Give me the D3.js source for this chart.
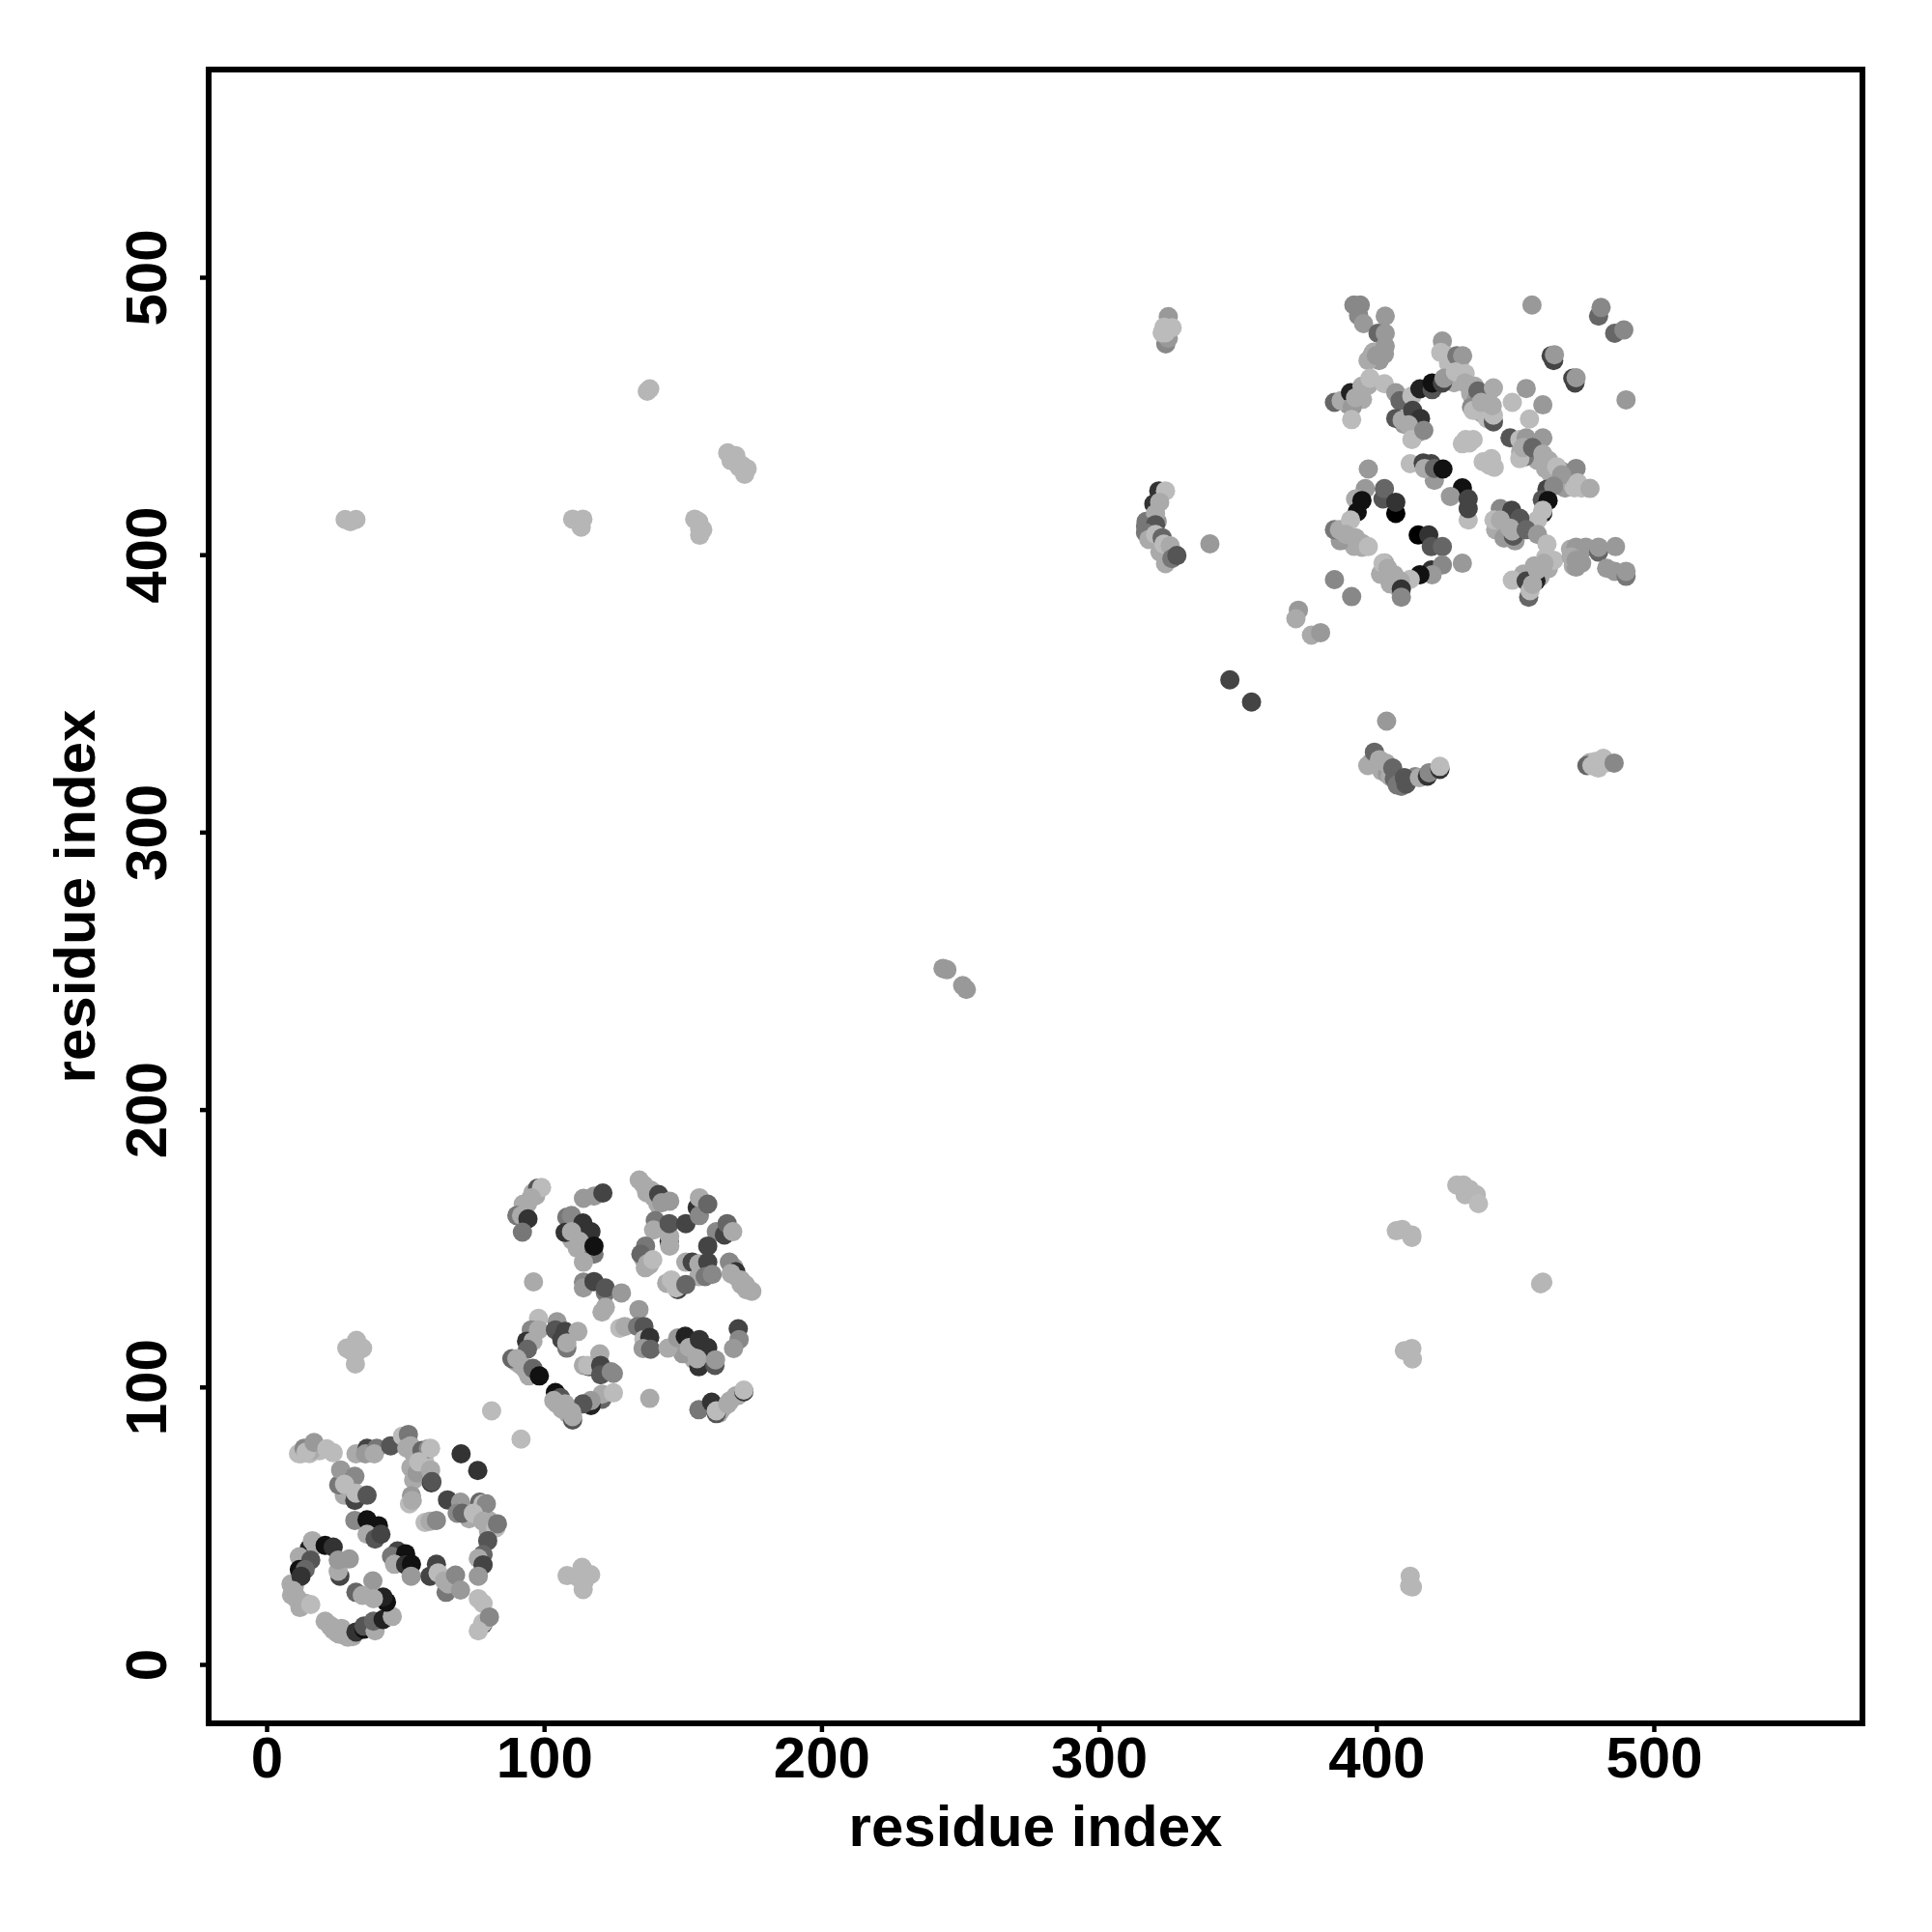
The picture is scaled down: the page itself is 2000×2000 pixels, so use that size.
<!DOCTYPE html>
<html><head><meta charset="utf-8">
<script src="https://cdn.jsdelivr.net/npm/d3@7/dist/d3.min.js"></script>
<style>html,body{margin:0;background:#fff}svg{display:block}</style></head>
<body><svg id="c" width="2000" height="2000"></svg>
<script>
// each contact: [residue x, residue y, grey level 0-15]
const clusterFill = [
[8.8,29,10],[9,25,10],[11,24,10],[12,20.5,10],[14,22,10],[10,28,10],[23,14,10],[24,12.5,10],[26,11,10],[28,10.5,10],[31,10,10],[27,13,10],
[11.5,76,11],[15.5,76,11],[19,77,11],[16,77,10],[28,68,10],[29,63,10],[30,65,11],[28,61,10],[53,76,10],[55,74,10],[52,71,10],[57,73,11],[56,68,10],[53,66.5,10],
[71,56,10],[73,52.5,10],[76,55,10],[80,52,10],[80,48,10],[66,31,10],[67,28,10],
[91.5,108,10],[93.5,106,10],[94.5,104,10],[90,109,10],[104.5,94,10],[106.5,92,10],[108.5,90.5,10],[105,96,10],[137,170,10],[139.5,168.5,10],[141,166,10],[96,170,10],[94,166,10],[93,163,10],[97,169,10],
[169,140,10],[171,137,10],[173,135,10],[168.5,143,9],[164,92,10],[167,95,10],[170,97,10],[163,90.5,10],[110,153,10],[112,150,10],[113,155,10],[111,158,10],[136,146,10],[138,144,10],[136.5,143,10],[152,112,10],[154,110,10],[150,112,9],
[393,458,10],[395,456,10],[390,454,9],[397,461,10],[391,456,10],[399,473,10],[401,470,9],[397,470,10],[426,469,11],[428,462,10],[434,458,10],[438,451,10],[440,456,10],[430,468,11],[436,456,9],[440,449,11],
[411,449,10],[413,446,10],[415,444,10],[410,447,9],[438.5,433.5,11],[442.5,431.5,11],[431,440,11],
[455,436,10],[458,434,10],[461,431,10],[463,429,10],[465,428,10],[452,437,10],[468,424,9],[470,426,10],[474,424,11],[467,430,9],
[388,408,10],[390,405,10],[392,403,10],[395,404,10],[387,405,9],[393,404.5,10],[401.5,393,10],[404,392,10],[406,390,10],[403,397,10],[405,389.5,10],[408,388,10],
[446,411,10],[447,408,10],[443,409,10],[446,406,9],[450,405,9],[453,393,10],[456,392,10],[459,392,10],[457,396,10],[461,399,11],[462,395,10],[455,393,10],
[471,396,10],[473,400,10],[470,402,10],[474,397,9],[472,395.5,9],
[317,412,7],[319,411,6],[319,408,10],[322,405,10],[324,401,10],[325,398,10],[322,401,10],[321,412,9],
[398,325,10],[400,327,9],[402,322,10],[404,321,9],[408,318,6],[412,319,10],[414,320,8],[409,316.5,7],[405,320,10],[477,325,10],[479,325.5,11],[483,325,11]
];
const clusterA = [
[12.4,75.9,11],[13.5,77.9,8],[14.2,76.5,11],[17.1,80,9],[21.7,77.7,11],[24,76.3,11],
[26,64.7,7],[26.7,70.1,9],[31.8,67.8,8],[28.1,64.9,11],[31.8,59.1,4],[32.2,61.7,11],[36.2,61,5],
[32.2,75.9,10],[36.2,77.9,4],[35.6,75.9,9],[39.7,77.9,7],[38.8,75.9,10],[44.7,78.8,5],[49,82.3,11],[51.1,82.9,7],[50.5,78,10],[51.9,78.8,10],[56,77.1,6],[58.3,77.7,8],[59.1,77.9,11],
[54.2,69,9],[54.8,73,11],[59.1,70.1,10],[59.4,65.5,3],[59.6,65.9,5],[70.1,75.9,3],[76.1,69.9,3],
[52.2,60.8,9],[51.5,57.9,11],[52.5,59.1,10],[57.1,51.2,11],[58.9,51.6,10],[61.2,51.9,8],
[65.2,59.3,4],[69.9,58.5,9],[68.7,54.5,8],[70.5,54.5,6],[76.8,58.5,6],[78,57.9,11],[79.2,57.9,8],[74.5,54.5,11],[78,51.6,10],[82.6,49.2,11],[83.2,50.7,7],
[79.7,44.6,5],[78,39.6,6],[76.3,38.2,10],[78,35.9,4],[76.3,31.8,9],[76.3,23.7,11],[78,22,11],[78,14.5,5],[78,15,11],[80.3,17.1,8],[76.3,12.1,11],
[31.8,51.9,8],[36.2,52.1,1],[40.3,50,1],[36.2,46.9,10],[39.1,45.2,5],[41.2,46.9,4],
[47.2,40.9,4],[45,39,7],[50.1,39.9,1],[46.1,36.1,10],[50.1,35.9,3],[52.2,36.1,1],[52.1,31.8,9],
[61.2,36.1,4],[58.9,31.8,4],[61.8,33,11],[64.7,26,7],[64.1,30.1,10],[65.5,29,10],[68.1,32.2,8],[69.9,26.8,9],
[15.3,41.7,2],[16.5,44.6,10],[17.6,42.9,10],[21.1,42.9,1],[24,42.3,3],[26.4,31.8,4],[25.8,33.6,10],[25.8,37.6,9],[29.8,38,9],
[11.8,38.8,10],[15.9,37.6,5],[11.8,34.2,1],[13.9,34.2,6],[12.4,31.8,3],[9.5,26.6,10],[10.7,23.7,10],[13,22,10],[15.9,21.6,11],
[21.1,15.6,10],[22.9,13.8,10],[25.2,11.5,10],[29.3,9.8,10],[32.2,11.7,3],[35.1,12.7,1],[35.1,13.8,5],[39.1,12.1,10],[38.5,15.6,6],[42,16.2,2],[45.3,17.3,10],
[43.2,22.5,1],[42,24.3,2],[38.3,30.1,9],[32.2,26,6],[34.5,24.9,10],[38.5,23.7,10]
];
const clusterB = [
[97.7,171.7,5],[99.1,171.9,11],[95.4,168.2,10],[92.5,165.9,10],[90.2,161.8,7],[91.9,161.8,10],[94.2,160.6,3],[92.2,155.8,7],[96.2,137.9,10],
[114.2,168,9],[118,168.8,9],[121.2,169.9,4],[108.2,161.2,7],[109.9,161.8,8],[114,159.1,3],[107.6,155.7,3],[109.9,156,10],[116.9,156,3],[112.8,152.5,10],[118,147.9,7],[118,150.8,1],[114.2,145,10],
[134.3,174.6,10],[136,172.8,10],[138.4,171,10],[141.3,169.4,4],[142.4,166.4,9],[145.3,167,9],[140.1,160,7],[139.5,156.6,10],[145.1,152.5,3],[145.3,154.3,10],[145.3,150.8,10],[145.1,158.9,5],[151.1,158.9,4],
[155.2,164.7,3],[156,168.2,10],[156,161.8,8],[159,165.9,6],[162.1,156,8],[165,154.8,4],[166,158.9,6],[168,156,10],[159,150.8,4],
[136.6,150.8,7],[134.9,147.9,6],[137.2,144.4,10],[139.2,145.9,11],[151.1,145,10],[153.4,145,4],[155.8,144.4,10],[155.8,139.8,10],[159,145,4],[158.1,139.8,7],[160.6,140.6,8],
[144.2,137.4,10],[145.9,138.6,11],[148.2,135.1,4],[147.6,135.7,11],[151.1,136.9,6],
[166.8,145,8],[169.1,141.5,3],[167.4,140.9,10],[170.9,138.6,10],[172.6,136.9,10],[174.9,134.5,10],
[114.2,137.8,8],[114.2,135.7,9],[118,138,4],[122.1,134,7],[122.1,135.7,5],[127.9,133.9,9],[122.1,128.7,10],[120.9,127,10],
[134.2,127.9,9],[127.3,121.2,11],[129.1,121.8,10],[133.7,121.8,7],[136,121.8,5],[136,117.1,11],[138.1,117.9,3],[135.7,113.9,9],[138.4,113.6,6],
[144.7,114,10],[148.2,117.7,9],[150.9,118.3,2],[152.3,114.2,10],[156,117.1,3],[159,114.2,3],[155.8,107.3,3],[155.2,110.2,10],[161.6,107.8,5],[161.8,109.8,9],
[170,121,4],[170.3,117.1,8],[168.3,113.9,9],
[98,124.7,11],[95.4,120.6,8],[98,120.6,10],[93.7,116.5,3],[96,116.5,10],[94,113.6,6],
[104.7,123.5,9],[104.1,120.6,5],[107.6,120,4],[112.2,120,10],[106.4,117.1,4],[108.2,114,7],[108.2,115.9,10],
[88.4,110.2,6],[90.2,110.2,10],[92.5,107.3,10],[95.4,104.4,10],[96,106.7,6],[98.3,104,1],
[114.2,107.8,10],[116.3,107.3,5],[115.7,107.8,11],[120.1,111.9,10],[120.4,107.8,4],[120.4,104.4,5],[124.2,105.5,8],[125,104.9,8],
[120.9,95.6,6],[120.9,97.4,10],[125,97.9,11],[116.9,93.3,2],[116.9,95.1,9],[114,93.9,5],
[104.1,98,1],[105.9,96.2,5],[103.5,95.1,10],[107.6,93.9,10],[109.9,91,10],[110.3,88.1,5],[110.3,89.3,10],
[138.1,95.9,10],[81.1,91.4,11],[91.7,81.2,11],
[155.8,91.8,7],[160.4,94.5,3],[162.1,90.4,5],[162.1,91.4,11],[166.2,93.9,10],[169.1,96.8,10],[172,98.3,3],[172,98.9,11]
];
const clusterC = [
[391.9,490,8],[394.2,490,8],[393.6,486.2,8],[395.4,483.3,9],[403.2,486,9],[400.6,479.8,6],[403.2,479.8,9],[403.2,475.2,9],[398.3,471.7,10],[400,471.7,9],[402.9,472.3,9],
[384.9,454.9,6],[387.3,455.5,10],[390.7,458.4,2],[391.3,453.2,9],[391.1,448.7,11],[392.5,456.6,10],[394.8,460.7,10],[397.7,463.6,11],[402.9,461.6,11],[407,458.4,9],[408.5,455.5,6],
[412.8,457.2,11],[415.7,459.8,2],[420.1,459.5,5],[420.1,461.9,1],[423.8,461.9,4],[424.4,463.6,9],
[423.8,477,9],[423.2,472.9,11],[425.6,471.7,11],[429,471.7,7],[431.1,471.7,9],[428.5,465.9,11],[432,465.3,11],[432,461.9,10],[435.4,460.7,10],[436.6,459,6],[442.2,460.1,10],[434.3,453.2,8],[434.9,452,11],[437.8,454.9,10],[442.2,447.9,5],[442.2,450.3,11],[441.8,453.7,10],
[407,449.1,5],[409.3,448.5,10],[413.1,452,4],[415.9,449.1,3],[411.6,446.8,10],[412.8,441.5,11],[417.1,444.8,8],
[432.2,441.5,11],[433.5,440.3,11],[434.9,441.5,11],[441.5,434.6,11],[440.7,432.3,11],
[449,454.9,11],[454,459.9,9],[460,454,9],[455.2,448.9,11],[456.1,490,9],[480.1,486,6],[481,489.1,8],[485.9,479.8,6],[489.2,481,8],[463,471.7,4],[463.9,470,4],[464.2,472.1,9],[471.6,461.9,4],[470.8,463.6,4],[472,463.8,9],[490,455.8,9],
[448.2,442.1,5],[451.7,441.5,11],[454,442.1,9],[460,442.1,9],[453.4,435.2,7],[451.7,434.6,11],[452.8,438.6,10],[456.3,438.6,6],[460,436.3,10],[462.1,434,10],[465,431.7,11],[470.8,428.2,5],[472,431.1,8],[466.8,428.8,9],[472.6,425.9,11],[471.4,424.1,11],[477,423.9,10],[461.5,423.6,4],[463.9,424.7,8],
[459.8,419.8,5],[461.9,419.5,1],[460,415,2],[460,416,11],[458.1,412.5,11],
[397.1,430.9,9],[420.9,426.8,9],[412.2,432.8,11],[416.9,433.1,4],[419.8,432.8,4],[417.4,431.1,10],[420.9,431.1,6],[424,430.9,1],
[396,423.8,9],[402.4,420.1,5],[402.9,423.8,6],[407,414.9,0],[407,418.9,3],[392.5,420.1,10],[394.8,419.5,1],[393.1,415.4,1],
[384.9,409,7],[386.7,409,10],[390.7,412.5,11],[389,407.3,10],[392.5,406.1,10],[394.8,402.7,10],[397.1,402.9,11],
[415.1,407.1,0],[418.9,407.1,3],[419.8,402.9,5],[423.8,402.9,6],[431,424.1,1],[426.7,421,9],[433.1,412.5,11],[433.1,416.6,4],[433.1,420.1,4],[431,396.9,9],[419.8,394.5,3],[423.8,396.3,8],[420.1,392.8,9],[415.7,392.8,1],[412.2,391.1,11],
[402.4,396.9,11],[404.1,395.1,10],[406.4,392.8,10],[408.7,390.5,10],[409,387.6,3],[409,384.7,8],[384.9,391,8],[391.1,384.9,8],
[444.7,416.6,8],[448.8,416,4],[451.7,413.1,5],[442.4,412.5,11],[444.7,412.5,10],[449.4,406.7,5],[448.2,409.6,10],[449,408.5,10],[454,409,6],[458.1,407.3,9],[461.5,403.8,11],[463.9,398,11],
[472,402.7,9],[475.5,402.7,9],[480.1,400.9,6],[480.1,402.7,9],[486.2,402.9,9],[470.2,399.2,10],[472,398,9],[483,395.1,9],[485.9,394,9],[490,392.2,7],[490,394,9],
[449,390.8,11],[454,390.5,4],[454.9,384.7,6],[455.4,387,11],[457.5,390.5,2],[456.3,389.3,10],[458,394.5,10],[460.4,396.9,10]
];
const clusterD = [
[321.6,423,3],[324,423,11],[319.8,418.3,3],[321.9,418.9,10],[320.4,414.8,10],[316.8,410.2,7],[320.4,410.8,5],[316.8,407.9,7],[318,405.5,10],[320.4,407.3,11],[322.8,406.1,6],[323.4,403.8,11],[325.7,403.2,10],[324,396.8,10],[326.3,398.6,7],[328.1,399.7,5],[340,403.9,9],
[347.2,354.9,4],[355,346.9,4],[371.9,380,9],[371,376.9,10],[376.6,371,10],[379.9,371.9,9],[403.7,340,9],
[396.9,324,10],[399.3,328.8,6],[401.1,326.1,10],[403.5,324.9,10],[405.9,323.1,6],[406.5,319.1,6],[407.5,317,7],[410.1,319.6,5],[410.7,317.3,5],[415.5,319.6,10],[418.4,320.2,3],[419,321.4,8],[422.9,322.6,3],[422.9,323.7,11],
[475.9,324,6],[477.7,324,11],[480,323.1,11],[481.8,326.6,11],[485.7,324.9,8]
];
const clusterE = [
[28.3,412.7,10.7],[32.2,412.7,10.7],[30.2,411.9,10.7],
[110.3,412.8,10.7],[114,412.8,10.7],[113.4,409.9,10.7],[112.3,411.9,10.7],
[154.3,412.8,10.7],[155.8,411.9,10.7],[157.2,409,10.7],[156.1,409.2,10.7],[156.1,407,10.7],
[137.2,458.9,10.7],[138.1,459.8,10.7],
[166.2,436.7,10.7],[169.1,435.7,10.7],[167.4,433.9,10.7],[171.4,432.2,10.7],[170.3,431.6,10.7],[173.2,431,10.7],[172.3,429,10.7],
[325,485.8,9],[324.1,476,8],[325,478,9],[322.8,480,11],[323.5,482,11],[324,480,11],[326.4,481.8,11],
[243.8,250.9,9],[245.2,250.4,9],[250.9,244.7,9],[252.2,243.3,9],
[429,172.8,10.7],[431.4,172.8,10.7],[433.7,171.1,10.7],[432,169.3,10.7],[436,169.3,10.7],[436.8,166.1,11],
[407.2,156.3,10.7],[409.3,156.8,10.7],[412.8,154.8,10.7],[412.8,153.9,10.7],
[459.2,137.2,10.7],[460,137.8,10.7],
[410.1,113.1,10.7],[412.8,113.9,10.7],[413,110.1,10.7],
[412.2,31.8,10.7],[413,27.9,10.7],[412,28.3,10.7],
[28.9,114,10.7],[32.4,112.3,10.7],[34.6,114,10.7],[32,108.3,10.7],[32.4,116.8,10.7],[30.5,113,10.7],
[108.3,32,10.7],[113.7,35,10.7],[116.8,32.4,10.7],[114.1,27,10.7],[112,31.5,10.7],[114.5,30,10.7]
];
const tickValues = [0,100,200,300,400,500];
const xLabel = "residue index";
const yLabel = "residue index";

const F = "'Liberation Sans', Arial, Helvetica, sans-serif";
const plotL=216, plotR=1928, plotT=72, plotB=1784;
const pxPerUnit=2.872;
const x=d3.scaleLinear().domain([(plotL-276)/pxPerUnit,(plotR-276)/pxPerUnit]).range([plotL,plotR]);
const y=d3.scaleLinear().domain([(1723-plotB)/pxPerUnit,(1723-plotT)/pxPerUnit]).range([plotB,plotT]);
const grey=d3.scaleLinear().domain([0,15]).range(["#000000","#ffffff"]);
const svg=d3.select("#c");
svg.append("rect").attr("width",2000).attr("height",2000).attr("fill","#fff");

const all=[...clusterFill,...clusterE,...clusterD,...clusterA,...clusterB,...clusterC];
svg.append("g").selectAll("circle").data(all).join("circle")
 .attr("cx",d=>x(d[0])).attr("cy",d=>y(d[1])).attr("r",10).attr("fill",d=>grey(d[2]));

svg.append("rect").attr("x",plotL).attr("y",plotT).attr("width",plotR-plotL).attr("height",plotB-plotT)
 .attr("fill","none").attr("stroke","#000").attr("stroke-width",6);

const gx=svg.append("g").attr("transform",`translate(0,${plotB})`)
 .call(d3.axisBottom(x).tickValues(tickValues).tickSize(9).tickSizeOuter(0));
gx.select(".domain").remove();
gx.selectAll("line").attr("stroke","#000").attr("stroke-width",4.5);
gx.selectAll("text").attr("y",0).attr("dy",0).attr("transform","translate(0,56)")
 .attr("font-family",F).attr("font-weight","bold").attr("font-size",60).attr("fill","#000").attr("text-anchor","middle");

const gy=svg.append("g").attr("transform",`translate(${plotL},0)`)
 .call(d3.axisLeft(y).tickValues(tickValues).tickSize(9).tickSizeOuter(0));
gy.select(".domain").remove();
gy.selectAll("line").attr("stroke","#000").attr("stroke-width",4.5);
gy.selectAll("text").attr("x",0).attr("y",0).attr("dy",0).attr("transform","translate(-44,0) rotate(-90)")
 .attr("font-family",F).attr("font-weight","bold").attr("font-size",60).attr("fill","#000").attr("text-anchor","middle");

svg.append("text").attr("x",(plotL+plotR)/2).attr("y",1911).attr("text-anchor","middle")
 .attr("font-family",F).attr("font-weight","bold").attr("font-size",60).attr("fill","#000").text(xLabel);
svg.append("text").attr("transform",`translate(98,${(plotT+plotB)/2}) rotate(-90)`).attr("text-anchor","middle")
 .attr("font-family",F).attr("font-weight","bold").attr("font-size",60).attr("fill","#000").text(yLabel);
</script></body></html>
